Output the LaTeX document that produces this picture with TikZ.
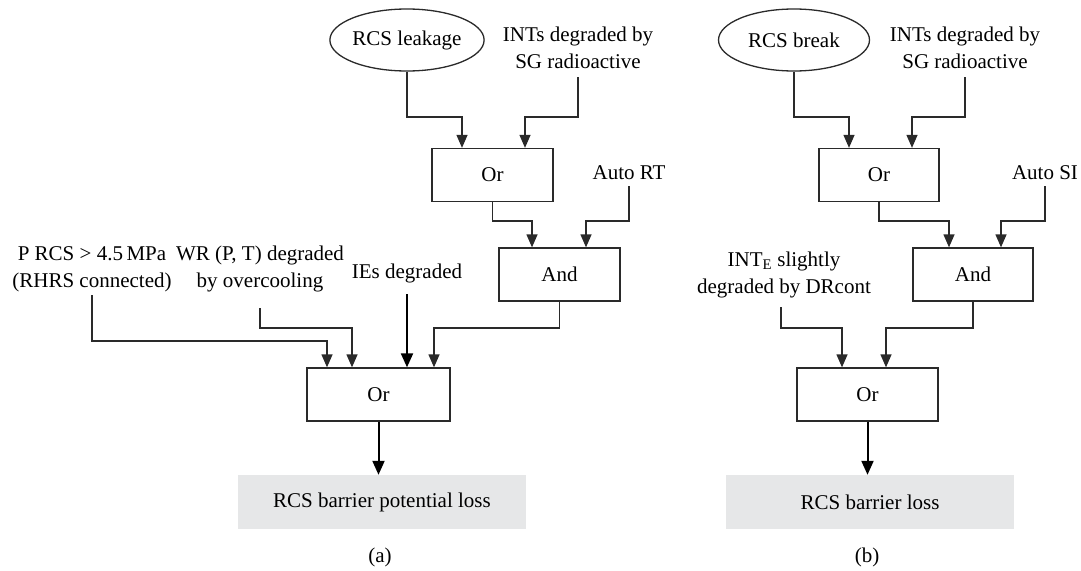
\documentclass[tikz,border=0pt]{standalone}
\usepackage{fontspec}
\setmainfont{Liberation Serif}
\usetikzlibrary{arrows.meta,shapes.geometric,calc}
\definecolor{linegray}{HTML}{2A2A2A}
\definecolor{boxfill}{HTML}{E6E7E8}
\tikzset{
  txt/.style={inner sep=0pt, align=center, font=\fontsize{21}{27}\selectfont},
  gate/.style={draw=linegray, line width=1.3pt, minimum width=121pt, minimum height=53pt, inner sep=0pt, font=\fontsize{21}{24}\selectfont},
  event/.style={draw=linegray, line width=1.3pt, ellipse, minimum width=151pt, minimum height=62pt, inner sep=0pt, font=\fontsize{21}{24}\selectfont},
  result/.style={fill=boxfill, minimum width=288pt, minimum height=54pt, inner sep=0pt, font=\fontsize{21}{24}\selectfont},
  conn/.style={draw=linegray, line width=1.3pt, -{Triangle[length=13pt,width=11pt]}},
  thickconn/.style={draw=black, line width=2pt, -{Triangle[length=14pt,width=12pt]}},
}
\begin{document}
\begin{tikzpicture}[x=1pt,y=-1pt]
\path[use as bounding box] (0,0) rectangle (1081,570);

% ---------- (a) ----------
\node[event] (leak) at (407,40) {RCS leakage};
\node[txt] (intA) at (578,47.5) {INTs degraded by\\SG radioactive};
\node[gate] (orA) at (492.5,175) {Or};
\node[txt] (autoRT) at (629,173) {Auto RT};
\node[gate] (andA) at (559.5,274.5) {And};
\node[txt] (prcs) at (92,269) {P RCS > 4.5\,MPa\\(RHRS connected)};
\node[txt] (wr) at (260,269) {WR (P, T) degraded\\by overcooling};
\node[txt] (ies) at (407,273) {IEs degraded};
\node[gate, minimum width=143pt] (orA2) at (378.5,394.5) {Or};
\node[result] (lossA) at (382,502) {RCS barrier potential loss};
\node[txt] (capA) at (380,557) {(a)};

\draw[conn] (leak.south) -- (leak.south |- 0,117) -| ([xshift=-30.5pt]orA.north);
\draw[conn] (intA.south |- 0,77) -- (intA.south |- 0,117) -| ([xshift=32.5pt]orA.north);
\draw[conn] (orA.south) -- (orA.south |- 0,221) -| ([xshift=-27.5pt]andA.north);
\draw[conn] (autoRT.south |- 0,186) -- (autoRT.south |- 0,221) -| ([xshift=26.5pt]andA.north);
\draw[conn] (prcs.south |- 0,295) -- (prcs.south |- 0,341) -| ([xshift=-51.5pt]orA2.north);
\draw[conn] (wr.south |- 0,308) -- (wr.south |- 0,328) -| ([xshift=-26.5pt]orA2.north);
\draw[thickconn] (ies.south |- 0,294) -- (ies.south |- orA2.north);
\draw[conn] (andA.south) -- (andA.south |- 0,328) -| ([xshift=55.5pt]orA2.north);
\draw[thickconn] (orA2.south) -- (lossA.north -| orA2.south);

% ---------- (b) ----------
\node[event] (brk) at (794,40) {RCS break};
\node[txt] (intB) at (965,47.5) {INTs degraded by\\SG radioactive};
\node[gate, minimum width=120pt] (orB) at (879,175) {Or};
\node[txt] (autoSI) at (1045,173) {Auto SI};
\node[gate, minimum width=120pt] (andB) at (973,274.5) {And};
\node[txt] (inte) at (784,274.5) {INT\textsubscript{E} slightly\\degraded by DRcont};
\node[gate, minimum width=141pt] (orB2) at (867.5,394.5) {Or};
\node[result] (lossB) at (870,502) {RCS barrier loss};
\node[txt] (capB) at (867,557) {(b)};

\draw[conn] (brk.south) -- (brk.south |- 0,117) -| ([xshift=-30pt]orB.north);
\draw[conn] (intB.south |- 0,77) -- (intB.south |- 0,117) -| ([xshift=33pt]orB.north);
\draw[conn] (orB.south) -- (orB.south |- 0,221) -| ([xshift=-24pt]andB.north);
\draw[conn] (autoSI.south |- 0,186) -- (autoSI.south |- 0,221) -| ([xshift=28pt]andB.north);
\draw[conn] ([xshift=-3pt]inte.south |- 0,307) -- ([xshift=-3pt]inte.south |- 0,328) -| ([xshift=-25.5pt]orB2.north);
\draw[conn] (andB.south) -- (andB.south |- 0,328) -| ([xshift=18.5pt]orB2.north);
\draw[thickconn] (orB2.south) -- (lossB.north -| orB2.south);
\end{tikzpicture}
\end{document}
